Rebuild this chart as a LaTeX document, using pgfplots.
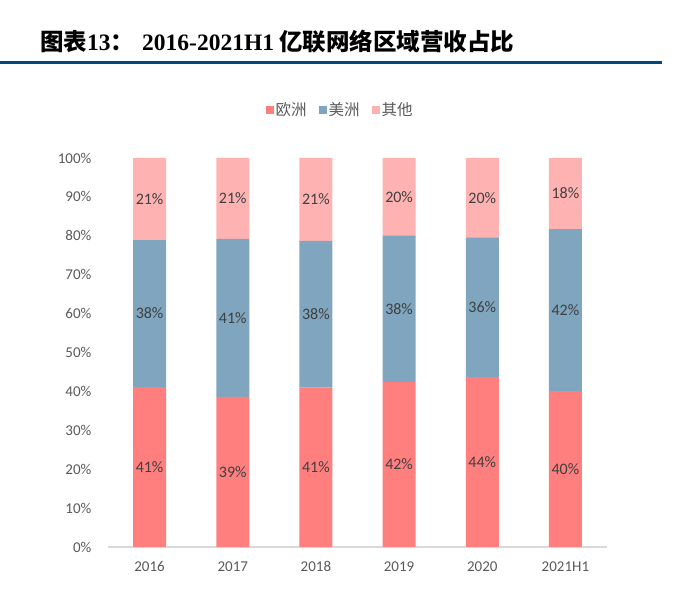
\documentclass[border=0pt]{standalone}
\usepackage{pgfplots}
\pgfplotsset{compat=1.18}
\usepackage{fontspec}
\setmainfont{Carlito}
\newfontfamily\cjk{Noto Sans CJK SC}
\newfontfamily\titleserif{Liberation Serif}
\definecolor{euro}{RGB}{255,127,127}
\definecolor{amer}{RGB}{127,165,191}
\definecolor{other}{RGB}{255,178,178}
\definecolor{tickgray}{RGB}{89,89,89}
\definecolor{labelgray}{RGB}{64,64,64}
\definecolor{axisgray}{RGB}{217,217,217}
\definecolor{titleblue}{RGB}{0,70,127}
\begin{document}
\begin{tikzpicture}
\useasboundingbox (0pt,0pt) rectangle (689pt,595pt);
% title and rule
\node[anchor=west,inner sep=0] at (40pt,553pt) {\fontsize{23.5}{28}\selectfont\bfseries
  {\cjk 图表}{\titleserif 13}{\cjk ：}\hspace{8pt}{\titleserif 2016-2021H1}\hspace{5pt}{\cjk 亿联网络区域营收占比}};
\fill[titleblue] (0pt,530.5pt) rectangle (662pt,533.5pt);

\begin{axis}[
  at={(108pt,48pt)}, anchor=south west,
  scale only axis, width=499pt, height=389pt,
  ybar stacked, bar width=33pt,
  xmin=-0.5, xmax=5.5, ymin=0, ymax=100,
  axis x line=bottom, axis y line=left,
  x axis line style={-, draw=axisgray, line width=1.5pt},
  y axis line style={draw=none},
  tick style={draw=none},
  xtick={0,...,5},
  xticklabels={2016,2017,2018,2019,2020,2021H1},
  ytick={0,10,...,100},
  yticklabel={\pgfmathprintnumber{\tick}\%},
  /pgf/number format/assume math mode=true,
  tick label style={font=\fontsize{15}{18}\selectfont, text=tickgray},
  yticklabel style={xshift=-11pt},
  xticklabel style={yshift=-9pt},
  legend columns=3,
  legend style={at={(axis description cs:0.465,1.123)}, anchor=center,
    draw=none, fill=none, font=\fontsize{15.5}{18}\selectfont\cjk, text=tickgray,
    /tikz/every even column/.append style={column sep=10pt}},
  legend image code/.code={\fill[#1] (0pt,-4pt) rectangle (8pt,4pt);},
]
\addplot[fill=euro, draw=none] coordinates {(0,41.1) (1,38.6) (2,41.0) (3,42.4) (4,43.7) (5,40.1)};
\addplot[fill=amer, draw=none] coordinates {(0,37.8) (1,40.6) (2,37.7) (3,37.7) (4,35.9) (5,41.6)};
\addplot[fill=other, draw=none] coordinates {(0,21.1) (1,20.8) (2,21.3) (3,19.9) (4,20.4) (5,18.3)};
\legend{欧洲,美洲,其他}
\end{axis}

\begin{axis}[
  at={(108pt,48pt)}, anchor=south west,
  scale only axis, width=499pt, height=389pt,
  xmin=-0.5, xmax=5.5, ymin=0, ymax=100,
  hide axis,
  nodes near coords, point meta=explicit symbolic,
  every node near coord/.append style={anchor=center, font=\fontsize{16}{19}\selectfont, text=labelgray},
]
\addplot[draw=none, mark=none] coordinates {
  (0,20.55)[41\%] (1,19.3)[39\%] (2,20.5)[41\%] (3,21.2)[42\%] (4,21.85)[44\%] (5,20.05)[40\%]
  (0,60.0)[38\%] (1,58.9)[41\%] (2,59.85)[38\%] (3,61.25)[38\%] (4,61.65)[36\%] (5,60.9)[42\%]
  (0,89.45)[21\%] (1,89.6)[21\%] (2,89.35)[21\%] (3,90.05)[20\%] (4,89.8)[20\%] (5,90.85)[18\%]
};
\end{axis}
\end{tikzpicture}
\end{document}
